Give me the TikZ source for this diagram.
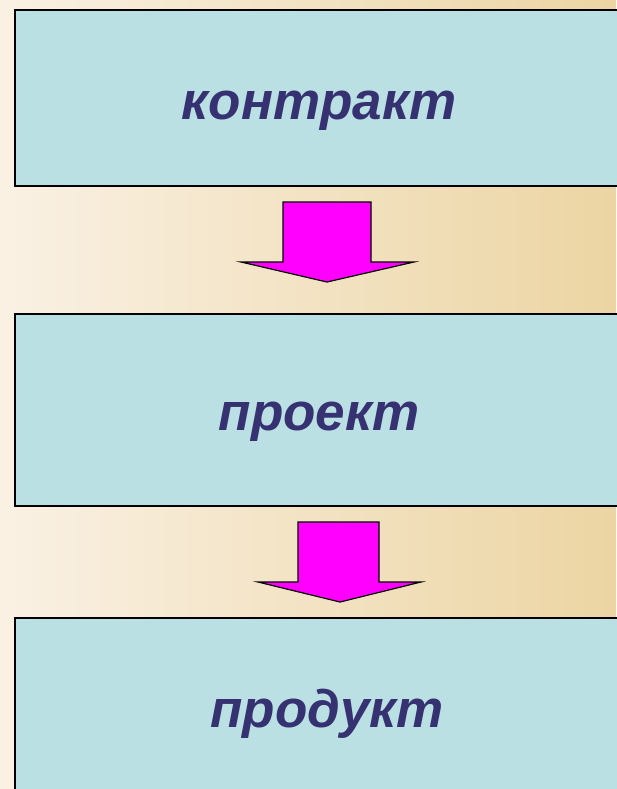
\documentclass[tikz,border=0pt]{standalone}
\usepackage{fontspec}
\setmainfont{Liberation Sans}
\definecolor{bgl}{RGB}{250,241,228}
\definecolor{bgr}{RGB}{236,213,163}
\definecolor{boxfill}{RGB}{187,224,227}
\definecolor{txt}{RGB}{54,50,114}
\definecolor{arr}{RGB}{255,0,255}
\begin{document}
\begin{tikzpicture}[x=1pt,y=-1pt,
  stage/.style={draw=black,line width=1.6pt,fill=boxfill},
  lbl/.style={text=txt,font=\fontsize{53}{58}\selectfont\bfseries\itshape,anchor=base},
  bigarrow/.style={draw=black,line width=1.2pt,fill=arr,line join=miter}]
\useasboundingbox (0,0) rectangle (616,789);
\shade[left color=bgl,right color=bgr] (0,0) rectangle (616,789);
\draw[stage] (15,10) rectangle (630,186);
\draw[stage] (15,314) rectangle (630,506);
\draw[stage] (15,618) rectangle (630,800);
\node[lbl] (t1) at (319,120) {контракт};
\node[lbl] (t2) at (319,430) {проект};
\node[lbl] (t3) at (327,727) {продукт};
\draw[bigarrow] (283,202) -- (371,202) -- (371,262) -- (414,262) -- (327,282) -- (241,262) -- (283,262) -- cycle;
\draw[bigarrow] (298,522) -- (379,522) -- (379,582) -- (421,582) -- (340,602) -- (258,582) -- (298,582) -- cycle;
\end{tikzpicture}
\end{document}
